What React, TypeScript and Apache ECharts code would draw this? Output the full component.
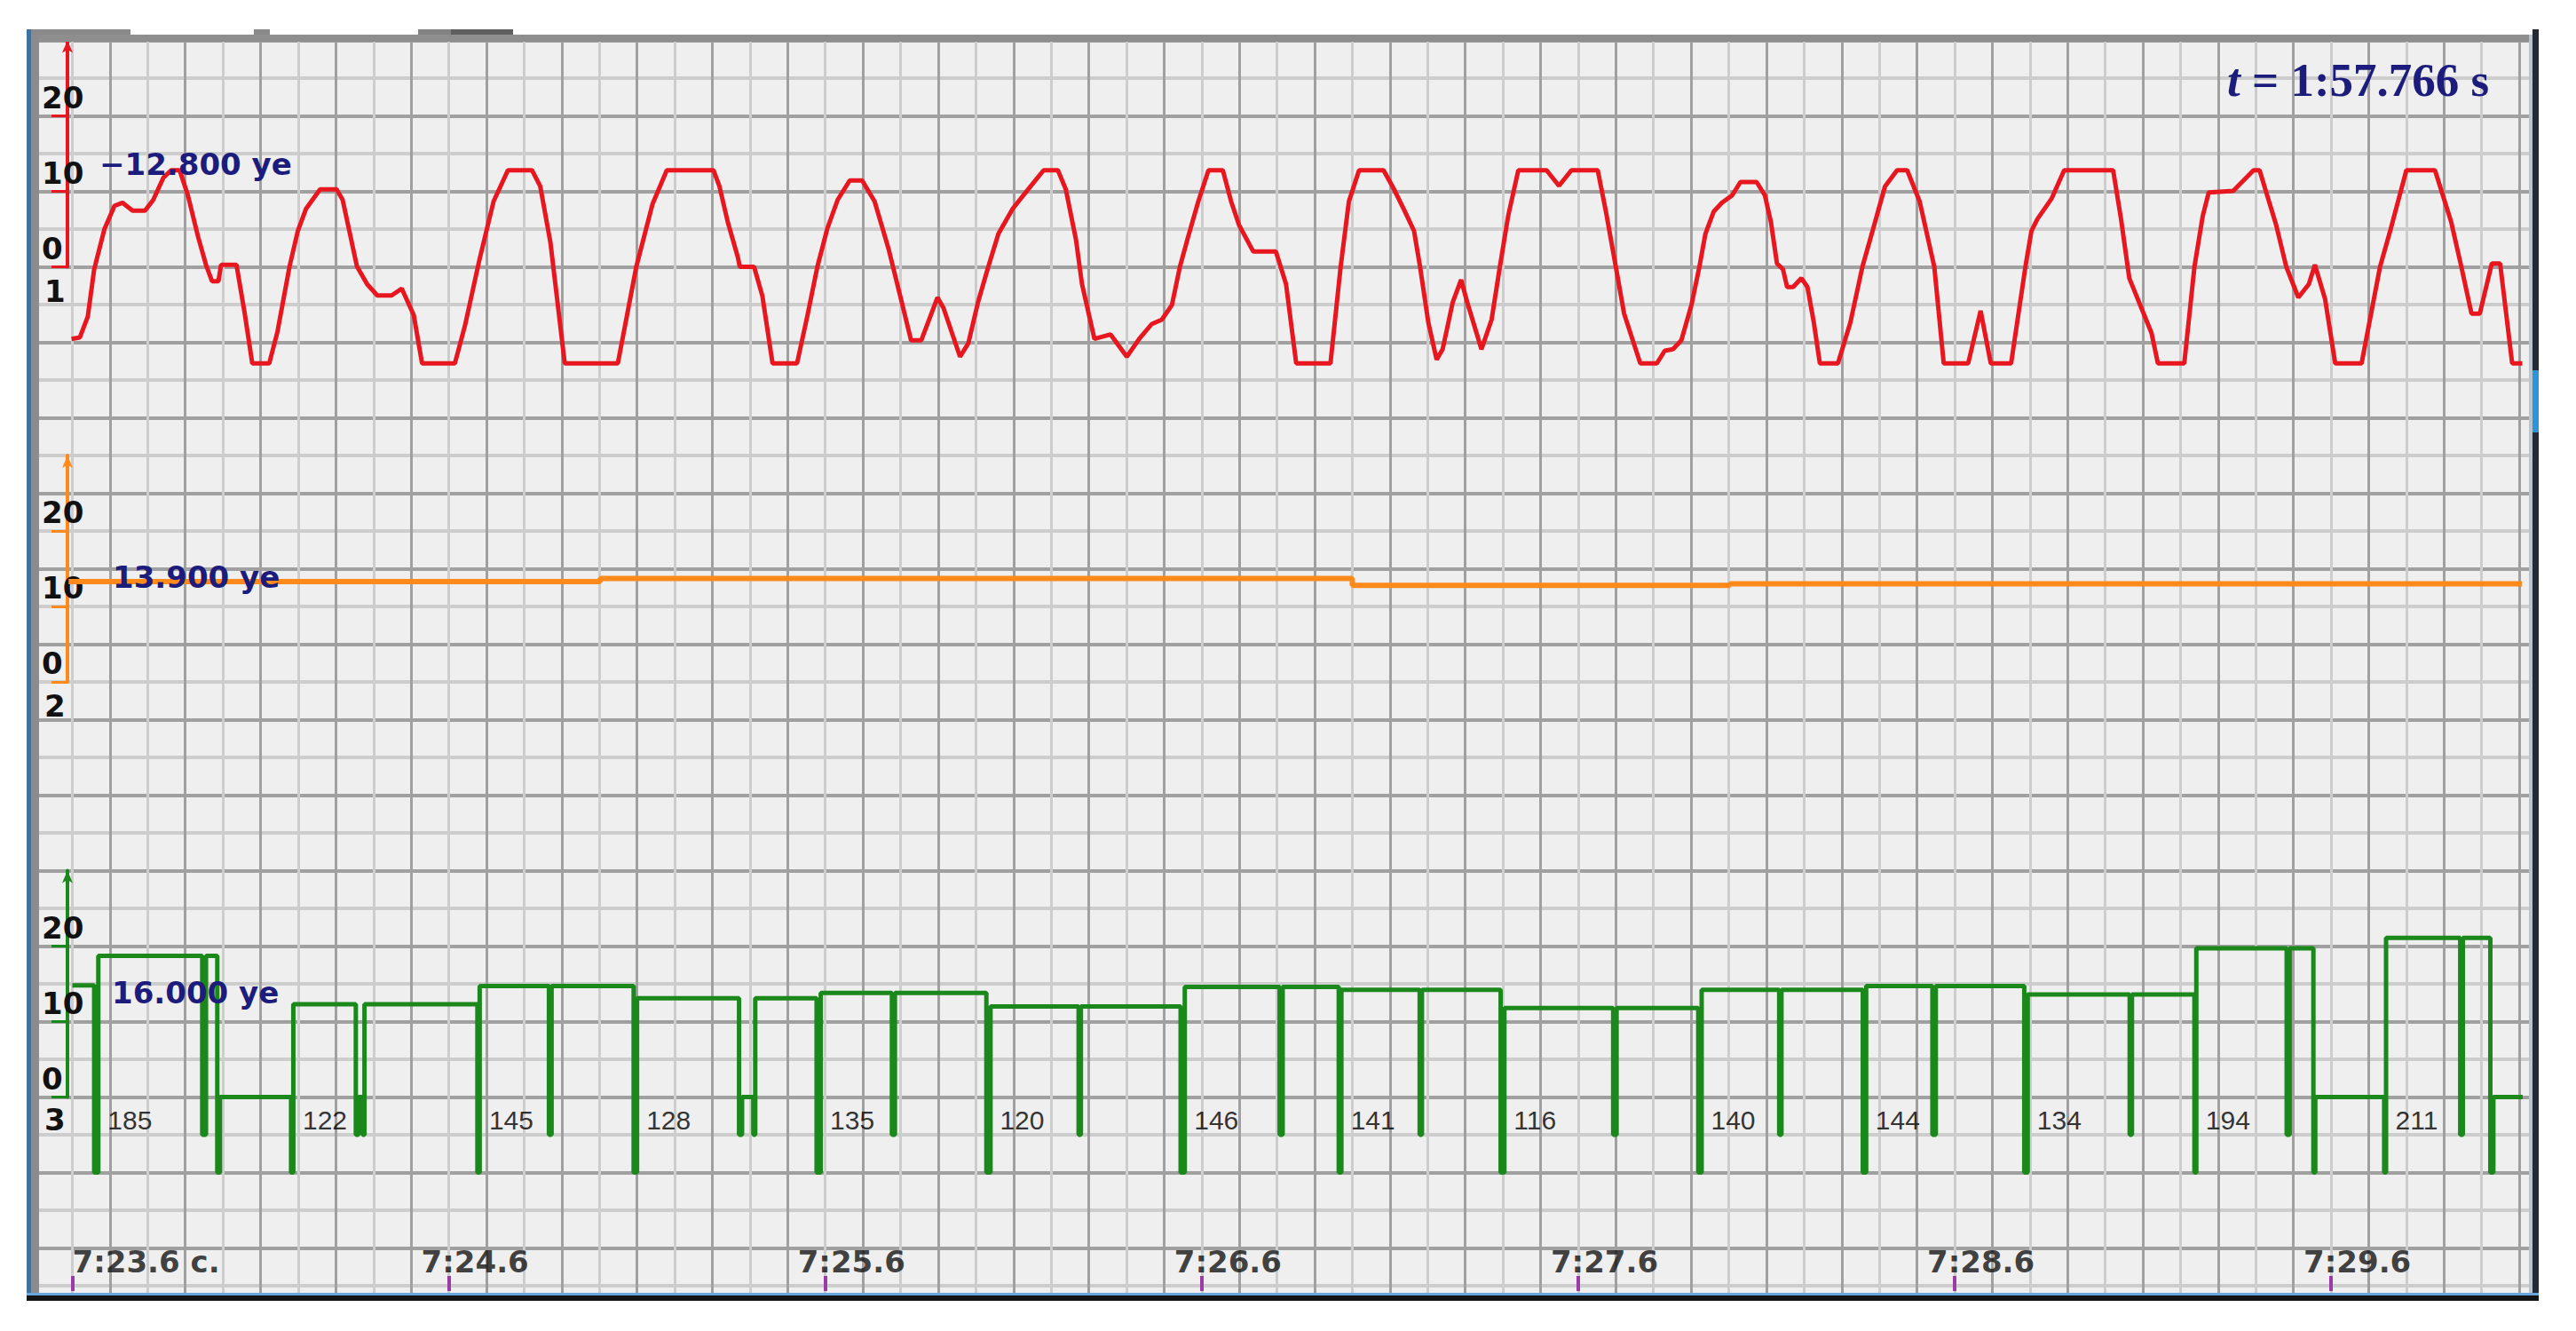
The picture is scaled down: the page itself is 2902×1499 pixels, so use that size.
import React, { useEffect, useRef } from 'react';
import * as echarts from 'echarts';

// ---------------- data ----------------
const tickTimes = [23.6, 24.6, 25.6, 26.6, 27.6, 28.6, 29.6];
const tickLabels = ['7:23.6 c.', '7:24.6', '7:25.6', '7:26.6', '7:27.6', '7:28.6', '7:29.6'];
const axisTickValues = [0, 10, 20];
const channelNumbers = ['1', '2', '3'];
const readouts = ['\u221212.800 ye', '13.900 ye', '16.000 ye'];
const elapsedLabel = '{i|t} = 1:57.766 s';

const redSignal: [number, number][] = [
  [23.598, -9.55], [23.62, -9.35], [23.641, -6.61], [23.658, -0.33], [23.685, 4.96], [23.712, 8.09], [23.733, 8.49],
  [23.76, 7.44], [23.793, 7.44], [23.815, 8.88], [23.842, 11.82], [23.863, 12.8], [23.885, 12.8], [23.907, 9.47],
  [23.934, 3.98], [23.955, 0.26], [23.971, -1.91], [23.988, -1.91], [23.995, 0.26], [24.036, 0.26], [24.058, -6.21],
  [24.078, -12.8], [24.123, -12.8], [24.145, -8.56], [24.177, 0.06], [24.199, 4.76], [24.221, 7.71], [24.258, 10.26],
  [24.302, 10.26], [24.318, 8.88], [24.356, 0.06], [24.383, -2.29], [24.41, -3.79], [24.448, -3.79], [24.475, -2.88],
  [24.507, -6.41], [24.529, -12.8], [24.616, -12.8], [24.643, -7.79], [24.681, 0.85], [24.719, 8.68], [24.757, 12.8],
  [24.821, 12.8], [24.843, 10.65], [24.87, 3.2], [24.908, -12.8], [25.049, -12.8], [25.098, 0], [25.141, 8.29],
  [25.179, 12.8], [25.303, 12.8], [25.319, 10.65], [25.341, 5.94], [25.368, 1.24], [25.373, 0], [25.411, 0],
  [25.433, -3.86], [25.46, -12.8], [25.525, -12.8], [25.552, -6.61], [25.579, 0], [25.606, 5.15], [25.633, 8.88],
  [25.665, 11.44], [25.698, 11.44], [25.731, 8.68], [25.768, 2.41], [25.801, -4.26], [25.828, -9.74], [25.855, -9.74],
  [25.898, -4.06], [25.914, -5.44], [25.958, -11.91], [25.98, -10.14], [26.006, -4.65], [26.033, 0], [26.06, 4.38],
  [26.098, 7.71], [26.142, 10.45], [26.18, 12.8], [26.218, 12.8], [26.239, 10.26], [26.266, 3.59], [26.282, -2.29],
  [26.315, -9.55], [26.358, -8.96], [26.401, -11.91], [26.434, -9.55], [26.467, -7.59], [26.494, -7.0], [26.521, -5.04],
  [26.542, 0], [26.564, 3.98], [26.591, 8.68], [26.618, 12.8], [26.656, 12.8], [26.678, 8.68], [26.699, 5.55],
  [26.737, 2.02], [26.797, 2.02], [26.824, -2.29], [26.851, -12.8], [26.942, -12.8], [26.969, 0], [26.991, 8.68],
  [27.018, 12.8], [27.083, 12.8], [27.111, 10.26], [27.138, 7.51], [27.164, 4.76], [27.18, 0], [27.202, -7.39],
  [27.224, -12.29], [27.24, -10.92], [27.267, -4.65], [27.289, -1.71], [27.305, -4.65], [27.343, -10.92], [27.37, -7.0],
  [27.392, 0], [27.414, 6.73], [27.441, 12.8], [27.516, 12.8], [27.549, 10.73], [27.582, 12.8], [27.652, 12.8],
  [27.673, 7.51], [27.7, 0], [27.722, -6.21], [27.765, -12.8], [27.809, -12.8], [27.83, -11.12], [27.852, -10.92],
  [27.874, -9.74], [27.901, -5.04], [27.922, 0], [27.938, 4.38], [27.96, 7.32], [27.982, 8.49], [28.009, 9.47],
  [28.031, 11.24], [28.074, 11.24], [28.096, 9.47], [28.112, 5.94], [28.128, 0.45], [28.144, -0.33], [28.155, -2.68],
  [28.171, -2.68], [28.193, -1.51], [28.209, -2.68], [28.226, -7.39], [28.242, -12.8], [28.29, -12.8], [28.323, -7.39],
  [28.355, 0], [28.382, 4.76], [28.415, 10.65], [28.447, 12.8], [28.474, 12.8], [28.507, 8.68], [28.546, 0],
  [28.571, -12.8], [28.636, -12.8], [28.669, -5.82], [28.696, -12.8], [28.75, -12.8], [28.788, 0], [28.804, 4.76],
  [28.82, 6.33], [28.858, 9.08], [28.891, 12.8], [29.021, 12.8], [29.042, 6.33], [29.064, -1.51], [29.123, -8.76],
  [29.14, -12.8], [29.21, -12.8], [29.237, 0], [29.259, 6.73], [29.275, 9.86], [29.34, 10.06], [29.394, 12.8],
  [29.41, 12.8], [29.454, 5.55], [29.481, 0], [29.513, -4.06], [29.541, -2.29], [29.557, 0.26], [29.584, -4.26],
  [29.611, -12.8], [29.681, -12.8], [29.73, 0], [29.757, 4.76], [29.8, 12.8], [29.876, 12.8], [29.919, 5.94],
  [29.946, 0], [29.973, -6.21], [29.995, -6.21], [30.027, 0.45], [30.049, 0.45], [30.081, -12.8], [30.108, -12.8],
];

const orangeSignal: [number, number][] = [
  [23.59, 13.3], [25.002, 13.3], [25.002, 13.7], [27.0, 13.7], [27.0, 12.8], [28.003, 12.8], [28.003, 13.0], [30.107, 13.0],
];

const greenSignal: [number, number][] = [
  [23.6, 14.8],
  [23.658, 14.8], [23.658, -10], [23.669, -10], [23.669, 18.7],
  [23.945, 18.7], [23.945, -5], [23.955, -5], [23.955, 18.7],
  [23.985, 18.7], [23.985, -10], [23.992, -10], [23.992, 0],
  [24.181, 0], [24.181, -10], [24.187, -10], [24.187, 12.3],
  [24.353, 12.3], [24.353, -5], [24.36, -5], [24.36, 0], [24.371, 0], [24.371, -5], [24.376, -5], [24.376, 12.3],
  [24.676, 12.3], [24.676, -10], [24.682, -10], [24.682, 14.7],
  [24.866, 14.7], [24.866, -5], [24.873, -5], [24.873, 14.7],
  [25.091, 14.7], [25.091, -10], [25.1, -10], [25.1, 13.1],
  [25.371, 13.1], [25.371, -5], [25.379, -5], [25.379, 0], [25.409, 0], [25.409, -5], [25.414, -5], [25.414, 13.1],
  [25.577, 13.1], [25.577, -10], [25.588, -10], [25.588, 13.8],
  [25.777, 13.8], [25.777, -5], [25.785, -5], [25.785, 13.8],
  [26.028, 13.8], [26.028, -10], [26.039, -10], [26.039, 12.0],
  [26.273, 12.0], [26.273, -5], [26.279, -5], [26.279, 12.0],
  [26.544, 12.0], [26.544, -10], [26.555, -10], [26.555, 14.6],
  [26.807, 14.6], [26.807, -5], [26.815, -5], [26.815, 14.6],
  [26.964, 14.6], [26.964, -10], [26.971, -10], [26.971, 14.2],
  [27.179, 14.2], [27.179, -5], [27.185, -5], [27.185, 14.2],
  [27.394, 14.2], [27.394, -10], [27.404, -10], [27.404, 11.8],
  [27.693, 11.8], [27.693, -5], [27.702, -5], [27.702, 11.8],
  [27.919, 11.8], [27.919, -10], [27.928, -10], [27.928, 14.2],
  [28.134, 14.2], [28.134, -5], [28.14, -5], [28.14, 14.2],
  [28.356, 14.2], [28.356, -10], [28.365, -10], [28.365, 14.7],
  [28.541, 14.7], [28.541, -5], [28.55, -5], [28.55, 14.7],
  [28.785, 14.7], [28.785, -10], [28.794, -10], [28.794, 13.6],
  [29.065, 13.6], [29.065, -5], [29.071, -5], [29.071, 13.6],
  [29.237, 13.6], [29.237, -10], [29.242, -10], [29.242, 19.7],
  [29.482, 19.7], [29.482, -5], [29.49, -5], [29.49, 19.7],
  [29.553, 19.7], [29.553, -10], [29.558, -10], [29.558, 0],
  [29.741, 0], [29.741, -10], [29.746, -10], [29.746, 21.1],
  [29.943, 21.1], [29.943, -5], [29.95, -5], [29.95, 21.1],
  [30.023, 21.1], [30.023, -10], [30.031, -10], [30.031, 0],
  [30.109, 0],
];

const greenCountTimes = [23.669, 24.187, 24.682, 25.1, 25.588, 26.039, 26.555, 26.971, 27.404, 27.928, 28.365, 28.794, 29.242, 29.746];
const greenCounts = ['185', '122', '145', '128', '135', '120', '146', '141', '116', '140', '144', '134', '194', '211'];
const greenCountLevel = -3;

// ---------------- layout / style ----------------
const T_MIN = 23.5;
const T_MAX = 30.2;
const T0 = 23.6;
const X_AT_T0 = 81.5;
const PX_PER_S = 424.1;
const PX_PER_UNIT = 8.5;
const ZERO_Y = [300.5, 768, 1235.5];
const AXIS_X = 76;
const CELL = 42.5;
const GRID_TOP = 45.5;

const RED = '#e8161e';
const ORANGE = '#ff8a1c';
const GREEN = '#1b881b';
const NAVY = '#1c1c7c';
const DARK_LINE = '#a0a0a0';
const LIGHT_LINE = '#cdcdcd';

const gridLeft = X_AT_T0 + (T_MIN - T0) * PX_PER_S;
const gridWidth = (T_MAX - T_MIN) * PX_PER_S;

function hiddenX(gridIndex: number) {
  return { type: 'value', gridIndex, min: T_MIN, max: T_MAX, show: false };
}
function hiddenY(gridIndex: number, min: number, max: number) {
  return { type: 'value', gridIndex, min, max, show: false };
}
function axisY(gridIndex: number, color: string) {
  return {
    type: 'value', gridIndex, min: 0, max: 30, position: 'left',
    axisLine: { show: true, lineStyle: { color, width: 4 }, symbol: ['none', 'arrow'], symbolSize: [9, 14] },
    axisTick: { show: true, length: 18, customValues: axisTickValues, lineStyle: { color, width: 3 } },
    axisLabel: {
      show: true, customValues: axisTickValues, margin: 29, align: 'left', verticalAlign: 'bottom',
      lineHeight: 34, padding: [0, 0, 4, 0], fontFamily: 'DejaVu Sans', fontWeight: 'bold', fontSize: 34, color: '#111',
    },
    splitLine: { show: false },
  };
}

function buildOption() {
  const grids = [
    // 0 background lattice
    { left: gridLeft, top: GRID_TOP, width: gridWidth, height: CELL * 34, show: true, backgroundColor: '#efefef', borderWidth: 0 },
    // 1 red data
    { left: gridLeft, top: ZERO_Y[0] - 30 * PX_PER_UNIT, width: gridWidth, height: 45 * PX_PER_UNIT },
    // 2 red axis
    { left: AXIS_X, top: ZERO_Y[0] - 30 * PX_PER_UNIT, width: 10, height: 30 * PX_PER_UNIT },
    // 3 orange data
    { left: gridLeft, top: ZERO_Y[1] - 30 * PX_PER_UNIT, width: gridWidth, height: 30 * PX_PER_UNIT },
    // 4 orange axis
    { left: AXIS_X, top: ZERO_Y[1] - 30 * PX_PER_UNIT, width: 10, height: 30 * PX_PER_UNIT },
    // 5 green data
    { left: gridLeft, top: ZERO_Y[2] - 30 * PX_PER_UNIT, width: gridWidth, height: 42 * PX_PER_UNIT },
    // 6 green axis
    { left: AXIS_X, top: ZERO_Y[2] - 30 * PX_PER_UNIT, width: 10, height: 30 * PX_PER_UNIT },
    // 7 time axis
    { left: gridLeft, top: 1400, width: gridWidth, height: 54 },
  ];

  const xAxis: any[] = [
    {
      type: 'value', gridIndex: 0, min: T_MIN, max: T_MAX, interval: 0.1,
      axisLine: { show: false }, axisTick: { show: false }, axisLabel: { show: false },
      splitLine: { show: true, showMinLine: true, showMaxLine: true, lineStyle: { color: [DARK_LINE, LIGHT_LINE], width: 3 } },
    },
    hiddenX(1), hiddenX(2), hiddenX(3), hiddenX(4), hiddenX(5), hiddenX(6),
    {
      type: 'value', gridIndex: 7, min: T_MIN, max: T_MAX, position: 'bottom',
      axisLine: { show: false },
      axisTick: { show: true, inside: true, length: 17, customValues: tickTimes, lineStyle: { color: '#9c3aa6', width: 4 } },
      axisLabel: { show: false },
      splitLine: { show: false },
    },
  ];

  const yAxis: any[] = [
    {
      type: 'value', gridIndex: 0, min: 0, max: 34, interval: 1,
      axisLine: { show: false }, axisTick: { show: false }, axisLabel: { show: false },
      splitLine: { show: true, showMinLine: true, showMaxLine: true, lineStyle: { color: [DARK_LINE, LIGHT_LINE], width: 4 } },
    },
    hiddenY(1, -15, 30),
    axisY(2, RED),
    hiddenY(3, 0, 30),
    axisY(4, ORANGE),
    hiddenY(5, -12, 30),
    axisY(6, GREEN),
    hiddenY(7, 0, 1),
  ];

  const series: any[] = [
    {
      type: 'line', xAxisIndex: 1, yAxisIndex: 1, data: redSignal, symbol: 'none', showSymbol: false,
      lineStyle: { color: RED, width: 5 }, z: 5,
    },
    {
      type: 'line', xAxisIndex: 3, yAxisIndex: 3, data: orangeSignal, symbol: 'none', showSymbol: false,
      lineStyle: { color: ORANGE, width: 6 }, z: 5,
    },
    {
      type: 'line', xAxisIndex: 5, yAxisIndex: 5, data: greenSignal, symbol: 'none', showSymbol: false,
      lineStyle: { color: GREEN, width: 5 }, z: 5,
    },
    {
      type: 'scatter', xAxisIndex: 5, yAxisIndex: 5, symbolSize: 1, itemStyle: { color: 'rgba(0,0,0,0)' },
      data: greenCountTimes.map((t, i) => ({ value: [t, greenCountLevel], name: greenCounts[i] })),
      label: {
        show: true, position: 'right', distance: 10, formatter: '{b}', color: '#000',
        fontFamily: 'Liberation Sans', fontSize: 30, verticalAlign: 'middle',
      },
      z: 6,
    },
    {
      type: 'scatter', xAxisIndex: 7, yAxisIndex: 7, symbolSize: 1, itemStyle: { color: 'rgba(0,0,0,0)' },
      data: tickTimes.map((t, i) => ({ value: [t, 0], name: tickLabels[i], label: { offset: [i === 0 ? 0 : -31, 0] } })),
      label: {
        show: true, position: 'top', distance: 16, align: 'left', formatter: '{b}', color: '#111',
        fontFamily: 'DejaVu Sans', fontWeight: 'bold', fontSize: 34, lineHeight: 34,
      },
      z: 6,
    },
  ];

  const rect = (x: number, y: number, w: number, h: number, fill: string) => ({
    type: 'rect', z: 100, silent: true, shape: { x, y, width: w, height: h }, style: { fill },
  });
  const text = (t: string, x: number, y: number, fill: string, size: number) => ({
    type: 'text', z: 110, silent: true,
    style: {
      text: t, x, y, fill, align: 'left', verticalAlign: 'middle',
      fontFamily: 'DejaVu Sans', fontWeight: 'bold', fontSize: size,
    },
  });

  const graphic: any[] = [
    rect(0, 0, 2902, 33, '#ffffff'),
    rect(0, 0, 30, 1499, '#ffffff'),
    rect(2860, 0, 42, 1499, '#ffffff'),
    rect(0, 1465, 2902, 34, '#ffffff'),
    rect(30, 39, 2830, 8, '#8e8e8e'),
    rect(30, 33, 117, 6, '#8a8a8a'),
    rect(286, 33, 18, 6, '#8a8a8a'),
    rect(471, 33, 107, 6, '#828282'),
    rect(508, 33, 70, 6, '#5f5f5f'),
    rect(30, 33, 5, 1432, '#41729f'),
    rect(35, 39, 9, 1418, '#8c8c8c'),
    rect(2849, 39, 4, 1418, '#b8c4d0'),
    rect(2853, 33, 7, 1432, '#222a33'),
    rect(2853, 417, 7, 70, '#2f93d8'),
    rect(30, 1456, 2830, 3, '#6aa6dc'),
    rect(30, 1459, 2830, 6, '#141414'),
    text(channelNumbers[0], 50, 328, '#111', 34),
    text(channelNumbers[1], 50, 795, '#111', 34),
    text(channelNumbers[2], 50, 1261, '#111', 34),
    text(readouts[0], 112, 185, NAVY, 34),
    text(readouts[1], 127, 650, NAVY, 34),
    text(readouts[2], 126, 1118, NAVY, 34),
  ];

  return {
    animation: false,
    backgroundColor: '#ffffff',
    title: {
      text: elapsedLabel, left: 2509, top: 60, padding: 0,
      textStyle: {
        fontFamily: 'Liberation Serif', fontWeight: 'bold', fontSize: 53, color: NAVY, lineHeight: 60,
        rich: { i: { fontFamily: 'Liberation Serif', fontWeight: 'bold', fontStyle: 'italic', fontSize: 53, color: NAVY, lineHeight: 60 } },
      },
      z: 120,
    },
    grid: grids,
    xAxis,
    yAxis,
    series,
    graphic,
  };
}

export default function App() {
  const ref = useRef<HTMLDivElement>(null);
  useEffect(() => {
    if (!ref.current) return;
    const chart = echarts.init(ref.current, undefined, { renderer: 'svg' });
    chart.setOption(buildOption() as any);
    return () => chart.dispose();
  }, []);
  return <div ref={ref} style={{ position: 'absolute', left: 0, top: 0, width: 2902, height: 1499 }} />;
}
